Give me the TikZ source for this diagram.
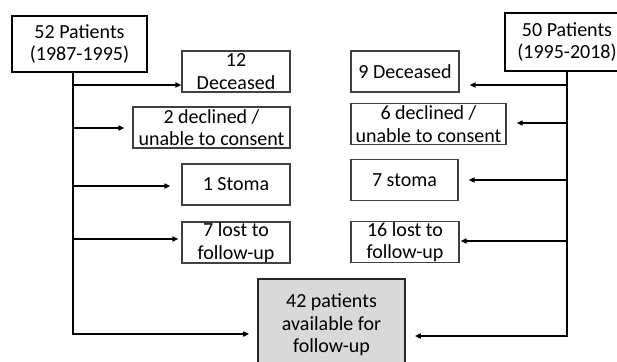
\documentclass[tikz,border=0pt]{standalone}
\usepackage{fontspec}
\setmainfont{Carlito}
\usetikzlibrary{arrows.meta}
\begin{document}
\begin{tikzpicture}[x=1pt,y=-1pt,
  every node/.style={font=\fontsize{20}{22.5}\selectfont, align=center, inner sep=0pt},
  mainbox/.style={draw=black, line width=2.5pt, fill=white},
  subbox/.style={draw=black!75, line width=1.1pt, minimum height=41pt},
  resbox/.style={draw=black!85, line width=1.6pt, fill=black!15},
  trunk/.style={line width=2pt},
  arr/.style={line width=2pt, -{Triangle[length=6pt,width=5pt]}}]
\useasboundingbox (0,0) rectangle (617,361);
% main boxes
\node[mainbox, minimum width=135pt, minimum height=56pt] (pL) at (79.5,44) {52 Patients\\(1987-1995)};
\node[mainbox, minimum width=124pt, minimum height=58pt] (pR) at (567,42) {50 Patients\\(1995-2018)};
% left boxes
\node[subbox, minimum width=108pt] (d1L) at (236,71.5) {12\\Deceased};
\node[subbox, minimum width=157pt] (d2L) at (211.5,127.5) {2 declined /\\unable to consent};
\node[subbox, minimum width=108pt] (d3L) at (236,184.5) {1 Stoma};
\node[subbox, minimum width=108pt] (d4L) at (236,242.5) {7 lost to\\follow-up};
% right boxes
\node[subbox, minimum width=108pt] (d1R) at (405,71.5) {9 Deceased};
\node[subbox, minimum width=155pt] (d2R) at (428.5,124) {6 declined /\\unable to consent};
\node[subbox, minimum width=107pt] (d3R) at (404.5,180) {7 stoma};
\node[subbox, minimum width=108pt] (d4R) at (405,242) {16 lost to\\follow-up};
% result box
\node[resbox, minimum width=147pt, minimum height=92pt] (res) at (331.5,325) {42 patients\\available for\\follow-up};
% trunk coordinates
\coordinate (tL1) at (73,85);
\coordinate (tL2) at (73,128);
\coordinate (tL3) at (73,186);
\coordinate (tL4) at (73,239);
\coordinate (tL5) at (73,334);
\coordinate (tR1) at (567,85);
\coordinate (tR2) at (567,123);
\coordinate (tR3) at (567,180);
\coordinate (tR4) at (567,241);
\coordinate (tR5) at (567,336);
\draw[trunk] (pL.south -| tL1) -- (tL5);
\draw[trunk] (pR.south) -- (tR5);
\draw[arr] (tL1) -- (d1L.west |- tL1);
\draw[arr] ([xshift=-1pt]tL2) -- ([xshift=-8pt]d2L.west |- tL2);
\draw[arr] (tL3) -- ([xshift=-11pt]d3L.west |- tL3);
\draw[arr] (tL4) -- ([xshift=-3pt]d4L.west |- tL4);
\draw[arr] ([xshift=-1pt]tL5) -- ([xshift=-8pt]res.west |- tL5);
\draw[arr] (tR1) -- ([xshift=10pt]d1R.east |- tR1);
\draw[arr] (tR2) -- ([xshift=10pt]d2R.east |- tR2);
\draw[arr] (tR3) -- ([xshift=10pt]d3R.east |- tR3);
\draw[arr] (tR4) -- ([xshift=1pt]d4R.east |- tR4);
\draw[arr] ([xshift=1pt]tR5) -- ([xshift=9pt]res.east |- tR5);
\end{tikzpicture}
\end{document}
